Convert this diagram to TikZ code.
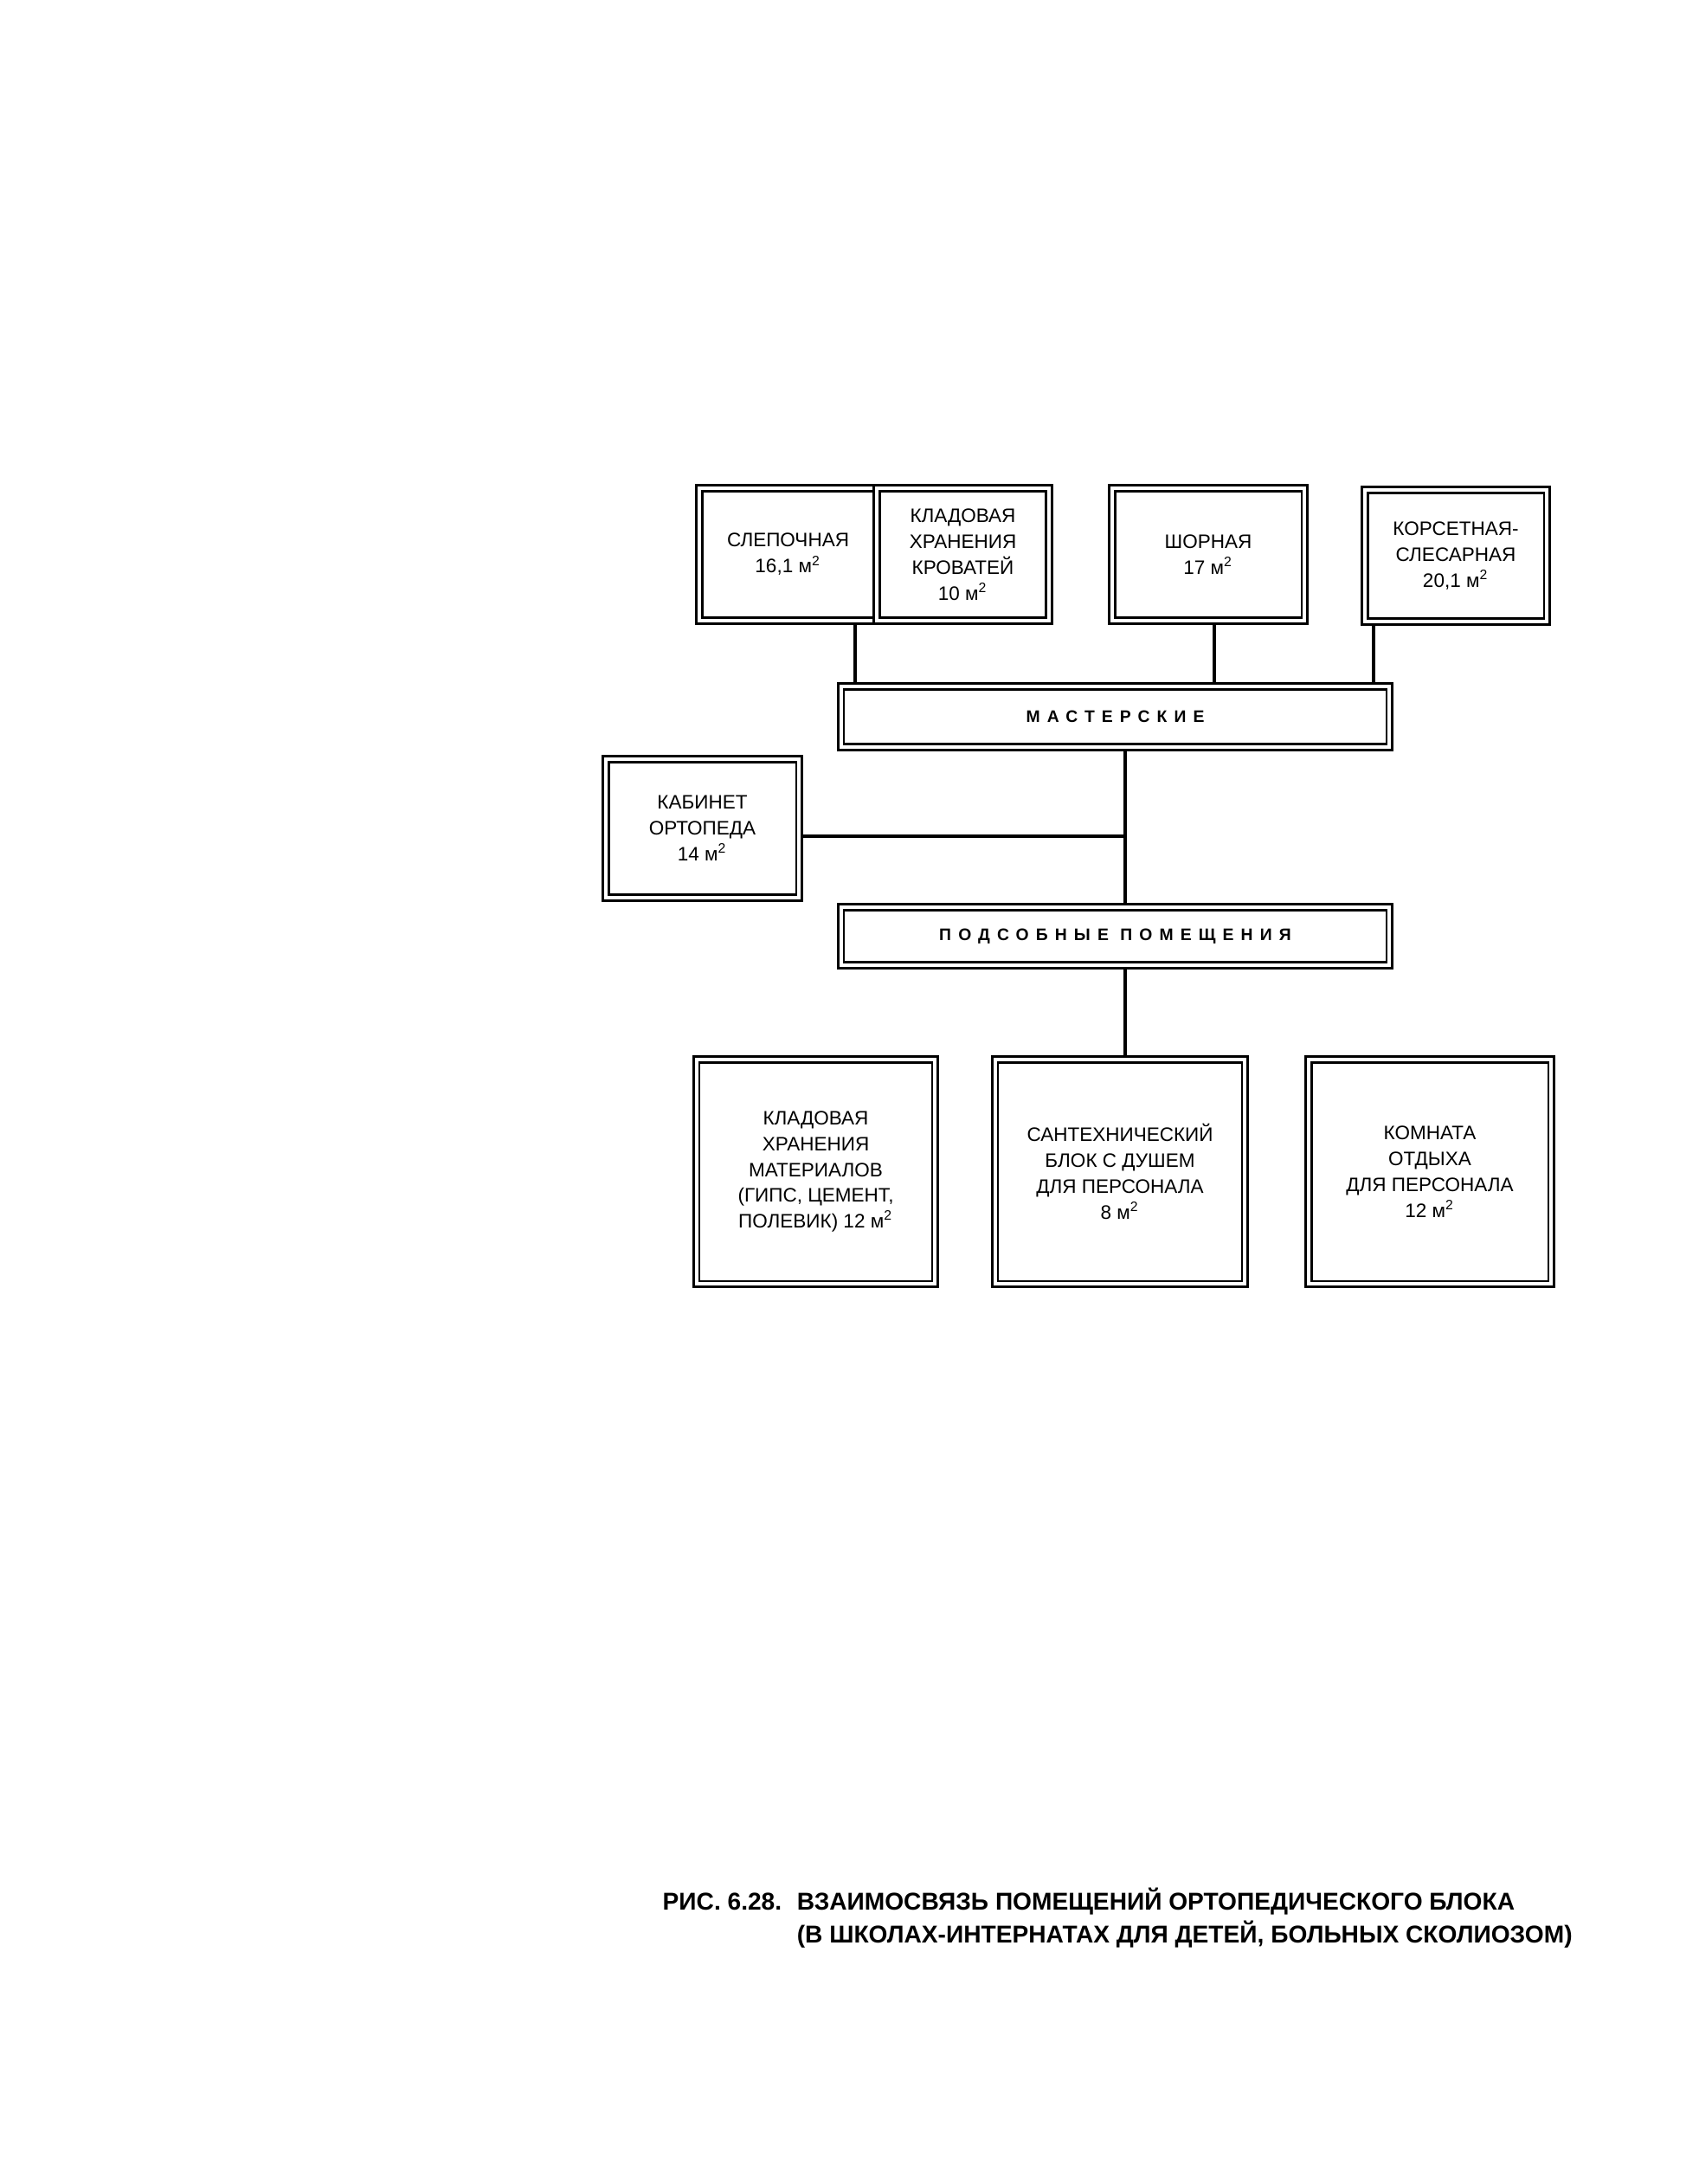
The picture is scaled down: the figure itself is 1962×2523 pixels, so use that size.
\documentclass[tikz,border=0pt]{standalone}
\usepackage{fontspec}
\setmainfont{Liberation Sans}
\newfontfamily\spacedfont[LetterSpace=42]{Liberation Sans}
\usetikzlibrary{backgrounds}
\newcommand\msq{~м\textsuperscript{2}}

\begin{document}
\begin{tikzpicture}[x=0.01cm,y=-0.01cm,
    room/.style={draw,double,line width=0.8pt,double distance=1pt,fill=white,
      inner sep=0pt,align=center,font=\fontsize{6.4}{8.5}\selectfont},
    hall/.style={room,minimum width=6.33cm,font=\spacedfont\bfseries\fontsize{5.5}{6}\selectfont},
    link/.style={line width=1.1pt}]
    \useasboundingbox (0,0) rectangle (1962,2523);

    % workshops
    \node[room,minimum width=2.05cm,minimum height=1.53cm] (slep) at (910.5,640.5) {СЛЕПОЧНАЯ\\16,1\msq};
    \node[room,minimum width=1.99cm,minimum height=1.53cm] (krov) at (1112.5,640.5) {КЛАДОВАЯ\\ХРАНЕНИЯ\\КРОВАТЕЙ\\10\msq};
    \node[room,minimum width=2.22cm,minimum height=1.53cm] (shor) at (1396,640.5) {ШОРНАЯ\\17\msq};
    \node[room,minimum width=2.10cm,minimum height=1.52cm] (kors) at (1682,642) {КОРСЕТНАЯ-\\СЛЕСАРНАЯ\\20,1\msq};
    \node[hall,minimum height=0.70cm] (mast) at (1288.5,828) {МАСТЕРСКИЕ};

    \node[room,minimum width=2.23cm,minimum height=1.60cm] (kab) at (811.5,957) {КАБИНЕТ\\ОРТОПЕДА\\14\msq};
    \node[hall,minimum height=0.67cm] (pods) at (1288.5,1081.5) {ПОДСОБНЫЕ ПОМЕЩЕНИЯ};

    % auxiliary rooms
    \node[room,minimum width=2.75cm,minimum height=2.59cm] (klm) at (942.5,1353.5) {КЛАДОВАЯ\\ХРАНЕНИЯ\\МАТЕРИАЛОВ\\(ГИПС, ЦЕМЕНТ,\\ПОЛЕВИК) 12\msq};
    \node[room,minimum width=2.88cm,minimum height=2.59cm] (san) at (1294,1353.5) {САНТЕХНИЧЕСКИЙ\\БЛОК С ДУШЕМ\\ДЛЯ ПЕРСОНАЛА\\8\msq};
    \node[room,minimum width=2.80cm,minimum height=2.59cm] (kom) at (1652,1353.5) {КОМНАТА\\ОТДЫХА\\ДЛЯ ПЕРСОНАЛА\\12\msq};

    \begin{scope}[on background layer]
      \draw[link] ([xshift=0.775cm]slep.south) coordinate (s1) -- (s1 |- mast.north);
      \draw[link] ([xshift=0.07cm]shor.south) coordinate (s2) -- (s2 |- mast.north);
      \draw[link] ([xshift=-0.95cm]kors.south) coordinate (s3) -- (s3 |- mast.north);
      \coordinate (trunk) at ([xshift=0.115cm]mast.south);
      \draw[link] (trunk) -- (trunk |- pods.north);
      \draw[link] ([yshift=-0.09cm]kab.east) coordinate (k1) -- (k1 -| trunk);
      \draw[link] (trunk |- pods.south) -- (trunk |- san.north);
    \end{scope}

    \node[anchor=base west,inner sep=0pt,font=\bfseries\fontsize{8}{10.8}\selectfont] (caption) at (765,2206)
      {\begin{tabular}[t]{@{}l@{\hspace{5pt}}l@{}}
        РИС. 6.28. & ВЗАИМОСВЯЗЬ ПОМЕЩЕНИЙ ОРТОПЕДИЧЕСКОГО БЛОКА\\
                   & (В ШКОЛАХ-ИНТЕРНАТАХ ДЛЯ ДЕТЕЙ, БОЛЬНЫХ СКОЛИОЗОМ)
      \end{tabular}};
\end{tikzpicture}
\end{document}
